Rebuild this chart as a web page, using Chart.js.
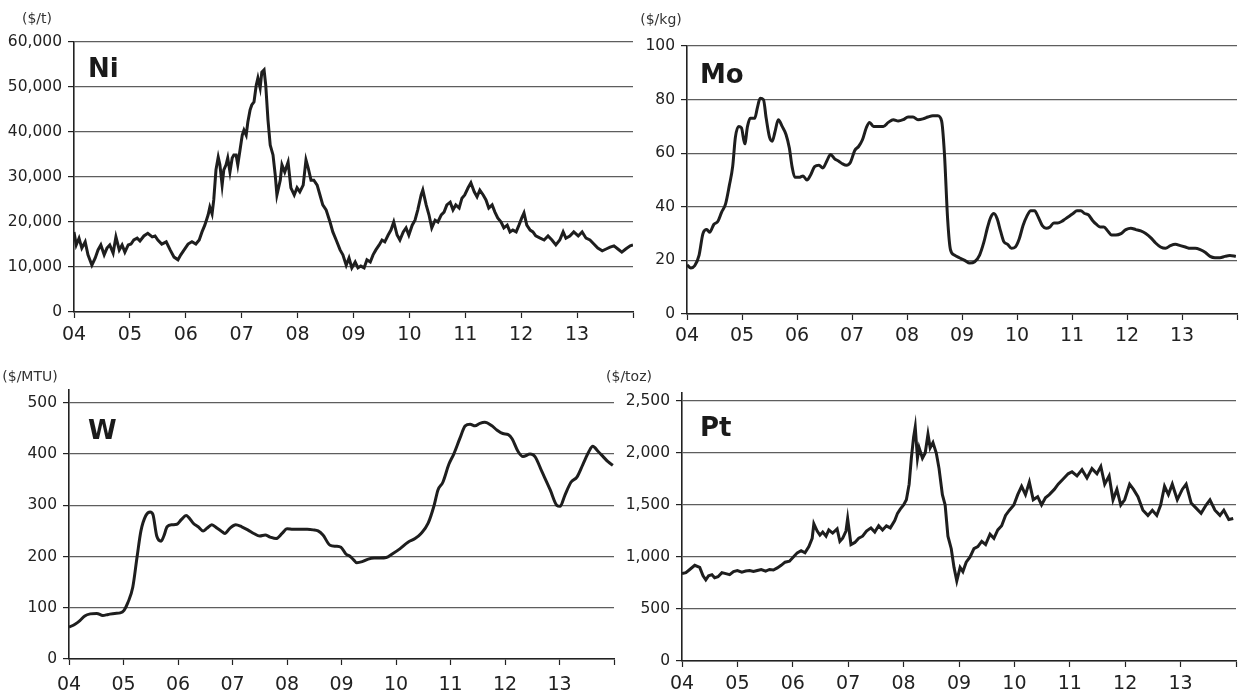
<!DOCTYPE html>
<html>
<head>
<meta charset="utf-8">
<script src="https://cdn.jsdelivr.net/npm/chart.js@4"></script>
<style>
  body { margin: 0; background: #fff; width: 1242px; height: 697px; position: relative; overflow: hidden; }
  canvas { position: absolute; }
</style>
</head>
<body>
<canvas id="niChart" width="640" height="350" style="left:0;top:0"></canvas>
<canvas id="moChart" width="642" height="350" style="left:600px;top:0"></canvas>
<canvas id="wChart" width="640" height="337" style="left:0;top:360px"></canvas>
<canvas id="ptChart" width="642" height="337" style="left:600px;top:360px"></canvas>
<script>
const yearTicks = [2004, 2005, 2006, 2007, 2008, 2009, 2010, 2011, 2012, 2013, 2014];
const yearLabels = ["04", "05", "06", "07", "08", "09", "10", "11", "12", "13", ""];

// Ni ($/t)
const niTicks = [0, 10000, 20000, 30000, 40000, 50000, 60000];
const niDates = [
  2004.00, 2004.04, 2004.09, 2004.14, 2004.20, 2004.25, 2004.32, 2004.38, 2004.43, 2004.48,
  2004.54, 2004.59, 2004.64, 2004.70, 2004.75, 2004.81, 2004.86, 2004.91, 2004.97, 2005.02,
  2005.07, 2005.13, 2005.18, 2005.25, 2005.32, 2005.40, 2005.45, 2005.50, 2005.57, 2005.65,
  2005.72, 2005.79, 2005.86, 2005.91, 2005.97, 2006.04, 2006.11, 2006.18, 2006.24, 2006.29,
  2006.34, 2006.40, 2006.43, 2006.47, 2006.50, 2006.54, 2006.58, 2006.61, 2006.65, 2006.68,
  2006.72, 2006.75, 2006.79, 2006.83, 2006.86, 2006.90, 2006.93, 2006.97, 2007.01, 2007.04,
  2007.08, 2007.11, 2007.15, 2007.18, 2007.22, 2007.26, 2007.29, 2007.33, 2007.36, 2007.40,
  2007.43, 2007.47, 2007.51, 2007.56, 2007.60, 2007.63, 2007.69, 2007.72, 2007.77, 2007.83,
  2007.88, 2007.94, 2007.99, 2008.04, 2008.10, 2008.15, 2008.19, 2008.24, 2008.29, 2008.35,
  2008.40, 2008.45, 2008.51, 2008.58, 2008.63, 2008.69, 2008.76, 2008.81, 2008.87, 2008.92,
  2008.97, 2009.03, 2009.08, 2009.13, 2009.19, 2009.24, 2009.30, 2009.35, 2009.40, 2009.46,
  2009.51, 2009.56, 2009.62, 2009.67, 2009.72, 2009.78, 2009.83, 2009.89, 2009.94, 2009.99,
  2010.05, 2010.10, 2010.15, 2010.21, 2010.24, 2010.30, 2010.35, 2010.40, 2010.46, 2010.51,
  2010.57, 2010.62, 2010.67, 2010.73, 2010.78, 2010.83, 2010.89, 2010.94, 2010.99, 2011.05,
  2011.10, 2011.16, 2011.21, 2011.26, 2011.32, 2011.37, 2011.42, 2011.48, 2011.53, 2011.58,
  2011.64, 2011.69, 2011.75, 2011.80, 2011.85, 2011.91, 2011.96, 2012.01, 2012.05, 2012.10,
  2012.16, 2012.21, 2012.26, 2012.34, 2012.41, 2012.48, 2012.55, 2012.62, 2012.69, 2012.75,
  2012.80, 2012.87, 2012.94, 2013.02, 2013.09, 2013.16, 2013.23, 2013.30, 2013.37, 2013.45,
  2013.52, 2013.59, 2013.66, 2013.73, 2013.80, 2013.87, 2013.95, 2014.00,
];
const niPrices = [
  17800, 14900, 16400, 14200, 15600, 12700, 10400, 12000, 13800, 14900,
  12700, 14200, 14900, 13100, 16700, 13800, 14900, 13300, 14900, 15100,
  16000, 16400, 15800, 16900, 17500, 16700, 16900, 16000, 15100, 15600,
  13800, 12200, 11600, 12700, 13800, 15100, 15600, 15100, 16000, 17800,
  19300, 21600, 23300, 21800, 24900, 31600, 34400, 32700, 28200, 31600,
  32700, 34200, 31100, 34200, 34900, 34900, 32700, 36000, 39300, 40400,
  39300, 42200, 44900, 46000, 46700, 50400, 52000, 49800, 53300, 53800,
  50400, 42700, 37100, 34900, 30400, 26000, 29300, 32700, 31100, 33300,
  27600, 26000, 27600, 26700, 28200, 33800, 32000, 29300, 29300, 28200,
  26000, 23800, 22700, 20000, 17800, 16000, 13800, 12700, 10400, 12000,
  9800, 11100, 9800, 10200, 9800, 11600, 11100, 12700, 13800, 14900,
  16000, 15600, 17100, 18200, 20000, 17100, 16000, 17800, 18700, 17100,
  19300, 20400, 22700, 26000, 27100, 23800, 21600, 18700, 20400, 20000,
  21600, 22200, 23800, 24400, 22700, 23800, 23100, 25300, 26000, 27600,
  28700, 26700, 25600, 27100, 26000, 24900, 23100, 23800, 22200, 20900,
  20000, 18700, 19300, 17800, 18200, 17800, 19300, 20900, 22000, 19300,
  18200, 17800, 16900, 16400, 16000, 16900, 16000, 14900, 16000, 17800,
  16400, 16900, 17800, 16900, 17800, 16400, 16000, 15100, 14200, 13600,
  14000, 14400, 14700, 14000, 13300, 14000, 14700, 14900,
];

// Mo ($/kg)
const moTicks = [0, 20, 40, 60, 80, 100];
const moDates = [
  2004.00, 2004.07, 2004.14, 2004.22, 2004.29, 2004.36, 2004.41, 2004.49, 2004.56, 2004.63,
  2004.70, 2004.77, 2004.83, 2004.88, 2004.94, 2004.99, 2005.05, 2005.10, 2005.15, 2005.23,
  2005.28, 2005.33, 2005.39, 2005.44, 2005.50, 2005.55, 2005.60, 2005.66, 2005.73, 2005.80,
  2005.86, 2005.91, 2005.96, 2006.04, 2006.11, 2006.18, 2006.25, 2006.32, 2006.40, 2006.47,
  2006.54, 2006.61, 2006.68, 2006.76, 2006.83, 2006.90, 2006.97, 2007.05, 2007.12, 2007.19,
  2007.26, 2007.32, 2007.39, 2007.48, 2007.57, 2007.66, 2007.75, 2007.84, 2007.93, 2008.02,
  2008.11, 2008.20, 2008.29, 2008.38, 2008.47, 2008.56, 2008.63, 2008.68, 2008.74, 2008.79,
  2008.86, 2008.95, 2009.05, 2009.14, 2009.23, 2009.32, 2009.40, 2009.46, 2009.52, 2009.58,
  2009.64, 2009.70, 2009.76, 2009.83, 2009.90, 2009.97, 2010.04, 2010.11, 2010.18, 2010.25,
  2010.32, 2010.39, 2010.46, 2010.53, 2010.60, 2010.67, 2010.74, 2010.81, 2010.88, 2010.95,
  2011.02, 2011.09, 2011.16, 2011.23, 2011.30, 2011.37, 2011.44, 2011.51, 2011.58, 2011.65,
  2011.72, 2011.80, 2011.89, 2011.98, 2012.07, 2012.16, 2012.25, 2012.34, 2012.43, 2012.52,
  2012.61, 2012.70, 2012.79, 2012.88, 2012.97, 2013.06, 2013.15, 2013.24, 2013.33, 2013.42,
  2013.51, 2013.60, 2013.69, 2013.78, 2013.87, 2013.98,
];
const moPrices = [
  18.3, 17.2, 18, 22, 30, 31.5, 30.5, 33.5, 34.5, 38,
  41, 48, 55, 66, 70, 69.5, 63.5, 70, 73, 73,
  77, 80.5, 80, 73, 66, 64.5, 68, 72.5, 70, 67,
  62, 55, 51, 51, 51.5, 50, 52, 55, 55.5, 54.5,
  57, 59.5, 58, 57, 56, 55.5, 56.5, 61, 62.5, 65,
  69.5, 71.5, 70, 70, 70, 71.5, 72.5, 72, 72.5, 73.5,
  73.5, 72.5, 72.8, 73.5, 74, 74, 72, 60, 35, 24,
  22, 21, 20, 19, 19.5, 22, 27, 32, 36, 37.5,
  35.5, 31, 27, 26, 24.5, 25, 28, 33, 36.5, 38.5,
  38.5, 36, 33, 32, 32.5, 34, 34, 34.5, 35.5, 36.5,
  37.5, 38.5, 38.5, 37.5, 37, 35, 33.5, 32.5, 32.5, 31,
  29.5, 29.5, 30, 31.5, 32, 31.5, 31, 30, 28.5, 26.5,
  25, 24.5, 25.5, 26, 25.5, 25, 24.5, 24.5, 24, 23,
  21.5, 21, 21, 21.5, 21.8, 21.5,
];

// W ($/MTU)
const wTicks = [0, 100, 200, 300, 400, 500];
const wDates = [
  2004.00, 2004.11, 2004.20, 2004.29, 2004.39, 2004.51, 2004.62, 2004.72, 2004.84, 2004.94,
  2005.01, 2005.08, 2005.17, 2005.25, 2005.32, 2005.41, 2005.49, 2005.54, 2005.61, 2005.69,
  2005.74, 2005.80, 2005.89, 2005.98, 2006.06, 2006.15, 2006.20, 2006.28, 2006.37, 2006.46,
  2006.53, 2006.62, 2006.72, 2006.79, 2006.86, 2006.95, 2007.06, 2007.17, 2007.28, 2007.39,
  2007.50, 2007.60, 2007.69, 2007.80, 2007.91, 2008.00, 2008.11, 2008.24, 2008.37, 2008.48,
  2008.57, 2008.66, 2008.79, 2008.90, 2008.99, 2009.08, 2009.16, 2009.21, 2009.28, 2009.38,
  2009.49, 2009.60, 2009.71, 2009.82, 2009.93, 2010.07, 2010.22, 2010.35, 2010.46, 2010.59,
  2010.70, 2010.77, 2010.86, 2010.97, 2011.06, 2011.17, 2011.27, 2011.36, 2011.45, 2011.54,
  2011.63, 2011.76, 2011.85, 2011.96, 2012.06, 2012.13, 2012.24, 2012.33, 2012.46, 2012.55,
  2012.68, 2012.83, 2012.95, 2013.01, 2013.10, 2013.21, 2013.32, 2013.43, 2013.54, 2013.61,
  2013.71, 2013.80, 2013.89, 2013.98,
];
const wPrices = [
  62, 68, 75, 84, 88, 89, 85, 87, 89, 90,
  95, 110, 140, 200, 250, 280, 287, 282, 240, 230,
  240, 258, 262, 263, 272, 280, 276, 265, 258, 250,
  255, 262, 255, 250, 245, 255, 262, 258, 252, 245,
  240, 242, 238, 235, 245, 254, 253, 253, 253, 252,
  250, 242, 222, 220, 218, 205, 200, 195, 188, 190,
  195, 197, 197, 198, 205, 215, 228, 235, 245, 265,
  300, 330, 345, 380, 400, 430, 455, 458, 455, 460,
  462, 455, 447, 440, 438, 430, 405, 395, 400, 395,
  365, 330, 300, 298, 320, 345, 355, 380, 405, 415,
  405, 395, 385, 378,
];

// Pt ($/toz)
const ptTicks = [0, 500, 1000, 1500, 2000, 2500];
const ptDates = [
  2004.00, 2004.07, 2004.14, 2004.23, 2004.32, 2004.38, 2004.43, 2004.48, 2004.54, 2004.59,
  2004.65, 2004.72, 2004.79, 2004.86, 2004.93, 2005.00, 2005.08, 2005.15, 2005.22, 2005.29,
  2005.36, 2005.43, 2005.51, 2005.58, 2005.65, 2005.72, 2005.79, 2005.86, 2005.94, 2006.01,
  2006.08, 2006.15, 2006.22, 2006.29, 2006.35, 2006.38, 2006.44, 2006.49, 2006.54, 2006.60,
  2006.65, 2006.72, 2006.80, 2006.85, 2006.90, 2006.96, 2006.99, 2007.05, 2007.12, 2007.19,
  2007.26, 2007.33, 2007.41, 2007.48, 2007.55, 2007.62, 2007.69, 2007.76, 2007.84, 2007.89,
  2007.94, 2008.00, 2008.05, 2008.10, 2008.14, 2008.18, 2008.21, 2008.25, 2008.28, 2008.34,
  2008.39, 2008.44, 2008.48, 2008.53, 2008.59, 2008.64, 2008.70, 2008.75, 2008.80, 2008.86,
  2008.91, 2008.96, 2009.02, 2009.07, 2009.13, 2009.20, 2009.27, 2009.34, 2009.41, 2009.48,
  2009.56, 2009.63, 2009.70, 2009.77, 2009.84, 2009.91, 2009.99, 2010.06, 2010.13, 2010.20,
  2010.27, 2010.34, 2010.42, 2010.49, 2010.56, 2010.63, 2010.72, 2010.79, 2010.88, 2010.97,
  2011.04, 2011.13, 2011.22, 2011.31, 2011.40, 2011.49, 2011.56, 2011.63, 2011.71, 2011.78,
  2011.85, 2011.92, 2011.99, 2012.08, 2012.15, 2012.23, 2012.32, 2012.41, 2012.49, 2012.57,
  2012.64, 2012.71, 2012.78, 2012.85, 2012.94, 2013.03, 2013.10, 2013.19, 2013.28, 2013.37,
  2013.46, 2013.53, 2013.62, 2013.71, 2013.78, 2013.87, 2013.95,
];
const ptPrices = [
  840, 850, 880, 920, 900, 820, 780, 820, 830, 800,
  810, 850, 840, 830, 860, 870, 855, 865, 870, 860,
  870, 880, 865, 880, 875, 895, 920, 950, 960, 1000,
  1040, 1060, 1040, 1100, 1180, 1320, 1250, 1210, 1240, 1200,
  1260, 1230, 1270, 1150, 1180, 1250, 1370, 1120, 1140, 1180,
  1200, 1250, 1280, 1240, 1300, 1260, 1300, 1280, 1350, 1420,
  1460, 1500, 1550, 1700, 1950, 2150, 2250, 1950, 2050, 1950,
  2000, 2180, 2050, 2100, 2000, 1850, 1600, 1500, 1200, 1080,
  900, 770, 900, 860, 950, 1000, 1080, 1100, 1150, 1120,
  1220, 1180, 1260, 1300, 1400, 1450, 1500, 1600, 1680, 1600,
  1720, 1550, 1580, 1500, 1570, 1600, 1650, 1700, 1750, 1800,
  1820, 1780, 1840, 1760, 1850, 1800, 1870, 1700, 1780, 1550,
  1650, 1500, 1550, 1700, 1650, 1580, 1450, 1400, 1450, 1400,
  1500, 1680, 1600, 1700, 1550, 1650, 1700, 1520, 1470, 1420,
  1500, 1550, 1450, 1400, 1450, 1360, 1370,
];

Chart.defaults.font.family = "'DejaVu Sans', sans-serif";
Chart.defaults.color = "#222";

// panel name and unit label
const panelText = {
  id: "panelText",
  afterDraw(chart, args, opts) {
    const ctx = chart.ctx;
    ctx.save();
    ctx.fillStyle = "#1a1a1a";
    ctx.font = "bold 26px 'DejaVu Sans', sans-serif";
    ctx.textAlign = "left";
    ctx.textBaseline = "alphabetic";
    ctx.fillText(opts.title, opts.tx, opts.ty);
    ctx.fillStyle = "#333";
    ctx.font = "14px 'DejaVu Sans', sans-serif";
    ctx.textAlign = "center";
    ctx.textBaseline = "middle";
    ctx.fillText(opts.unit, opts.ux, opts.uy);
    ctx.restore();
  },
};

function makeChart(id, cfg) {
  const points = cfg.dates.map((d, i) => ({ x: d, y: cfg.values[i] }));
  return new Chart(document.getElementById(id), {
    type: "line",
    data: {
      datasets: [
        {
          data: points,
          borderColor: "#1e1e1e",
          borderWidth: 3,
          pointRadius: 0,
          tension: cfg.tension,
          cubicInterpolationMode: cfg.tension > 0 ? "monotone" : "default",
          fill: false,
        },
      ],
    },
    options: {
      responsive: false,
      animation: false,
      devicePixelRatio: 1,
      layout: { padding: { top: cfg.top, right: cfg.right, left: 0, bottom: 0 } },
      plugins: {
        legend: { display: false },
        tooltip: { enabled: false },
        panelText: { title: cfg.title, unit: cfg.unit, tx: cfg.tx, ty: cfg.ty, ux: cfg.ux, uy: cfg.uy },
      },
      scales: {
        x: {
          type: "linear",
          min: 2004,
          max: 2014,
          afterBuildTicks: (s) => { s.ticks = yearTicks.map((v) => ({ value: v })); },
          afterFit: (s) => { s.height = cfg.xh; },
          ticks: {
            autoSkip: false,
            maxRotation: 0,
            padding: cfg.xpad,
            font: { size: 19 },
            color: "#222",
            callback: (v, i) => yearLabels[i],
          },
          grid: { display: true, drawOnChartArea: false, drawTicks: true, tickLength: 6, tickColor: "#222", tickWidth: 1.2 },
          border: { display: true, color: "#222", width: 1.6 },
        },
        y: {
          min: 0,
          max: cfg.max,
          afterBuildTicks: (s) => { s.ticks = cfg.ticks.map((v) => ({ value: v })); },
          afterFit: (s) => { s.width = cfg.yw; },
          ticks: {
            padding: 6,
            font: { size: 15.5 },
            color: "#222",
            callback: (v) => v.toLocaleString("en-US"),
          },
          grid: { color: "#5e5e5e", lineWidth: 1.2, drawTicks: true, tickLength: 6, tickColor: "#222", tickWidth: 1.2 },
          border: { display: true, color: "#222", width: 1.6 },
        },
      },
    },
    plugins: [panelText],
  });
}

makeChart("niChart", {
  dates: niDates, values: niPrices, ticks: niTicks, max: 60000, tension: 0,
  top: 42, right: 7, yw: 74, xh: 38, xpad: 6,
  title: "Ni", tx: 88, ty: 77, unit: "($/t)", ux: 37, uy: 19,
});
makeChart("moChart", {
  dates: moDates, values: moPrices, ticks: moTicks, max: 100, tension: 0.4,
  top: 46, right: 1, yw: 87, xh: 36, xpad: 5,
  title: "Mo", tx: 100, ty: 83, unit: "($/kg)", ux: 61, uy: 20,
});
makeChart("wChart", {
  dates: wDates, values: wPrices, ticks: wTicks, max: 525, tension: 0.4,
  top: 30, right: 26, yw: 69, xh: 38, xpad: 9,
  title: "W", tx: 88, ty: 79, unit: "($/MTU)", ux: 30, uy: 17,
});
makeChart("ptChart", {
  dates: ptDates, values: ptPrices, ticks: ptTicks, max: 2577, tension: 0,
  top: 33, right: 2, yw: 82, xh: 36, xpad: 6,
  title: "Pt", tx: 100, ty: 76, unit: "($/toz)", ux: 29, uy: 17,
});
</script>
</body>
</html>
